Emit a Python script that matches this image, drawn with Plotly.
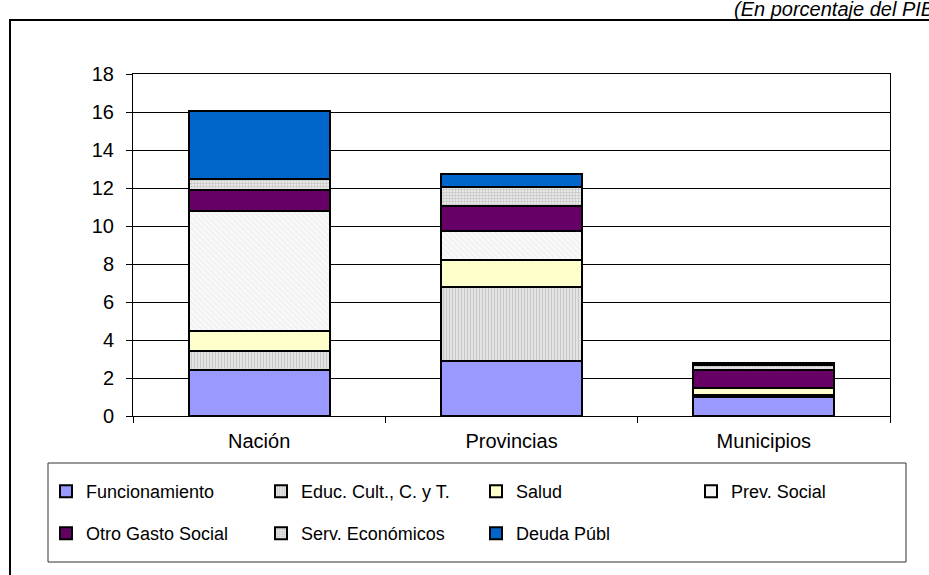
import plotly.graph_objects as go

categories = ["Nación", "Provincias", "Municipios"]

funcionamiento = [2.4, 2.9, 1.0]
educ_cult = [1.0, 3.9, 0.12]
salud = [1.1, 1.4, 0.33]
prev_social = [6.3, 1.55, 0.05]
otro_gasto_social = [1.1, 1.3, 0.92]
serv_economicos = [0.55, 1.0, 0.25]
deuda_publ = [3.6, 0.7, 0.1]

y_ticks = [0, 2, 4, 6, 8, 10, 12, 14, 16, 18]

series = [
    ("Funcionamiento", funcionamiento, dict(color="#9999FF"), "legend"),
    ("Educ. Cult., C. y T.", educ_cult,
     dict(color="#E4E4E4", pattern=dict(shape="|", fgcolor="#A8A8A8", bgcolor="#E8E8E8", size=3, solidity=0.45)), "legend"),
    ("Salud", salud, dict(color="#FFFFCC"), "legend"),
    ("Prev. Social", prev_social,
     dict(color="#F8F8F8", pattern=dict(shape="\\", fgcolor="#E4E4E4", bgcolor="#F9F9F9", size=4, solidity=0.3)), "legend"),
    ("Otro Gasto Social", otro_gasto_social, dict(color="#660066"), "legend2"),
    ("Serv. Económicos", serv_economicos,
     dict(color="#D0D0D0", pattern=dict(shape=".", fgcolor="#9A9A9A", bgcolor="#F2F2F2", size=3, solidity=0.55)), "legend2"),
    ("Deuda Públ", deuda_publ, dict(color="#0066CC"), "legend2"),
]

fig = go.Figure()
for name, vals, mk, lg in series:
    marker = dict(mk)
    marker["line"] = dict(color="#000000", width=2)
    fig.add_trace(go.Bar(x=categories, y=vals, name=name, marker=marker, legend=lg))

W, H = 929, 575
L, R, T, B = 133, 39, 74, 159
pw, ph = W - L - R, H - T - B

def px(xp):
    return (xp - L) / pw

def py(yp):
    return (H - B - yp) / ph

font_family = "Liberation Sans, Arial, sans-serif"

fig.update_layout(
    width=W, height=H,
    margin=dict(l=L, r=R, t=T, b=B),
    barmode="stack",
    bargap=0.44,
    plot_bgcolor="#FFFFFF",
    paper_bgcolor="#FFFFFF",
    font=dict(family=font_family, size=20, color="#000000"),
    xaxis=dict(
        showline=True, linecolor="#000000", linewidth=1, mirror=True,
        ticks="outside", tickson="boundaries", ticklen=6, tickcolor="#000000",
        ticklabelstandoff=7, showgrid=False,
        tickfont=dict(size=20),
    ),
    yaxis=dict(
        range=[0, 18], tickvals=y_ticks, ticktext=[str(v) for v in y_ticks],
        showline=True, linecolor="#000000", linewidth=1, mirror=True,
        ticks="outside", ticklen=6, tickcolor="#000000",
        showgrid=True, gridcolor="#000000", gridwidth=1,
        zeroline=False, tickfont=dict(size=20), ticklabelstandoff=8,
    ),
    legend=dict(
        orientation="h", x=px(46), y=py(473), xanchor="left", yanchor="top",
        entrywidth=170, entrywidthmode="pixels",
        font=dict(size=18), bgcolor="rgba(0,0,0,0)", borderwidth=0,
        traceorder="normal",
    ),
    legend2=dict(
        orientation="h", x=px(46), y=py(515), xanchor="left", yanchor="top",
        entrywidth=170, entrywidthmode="pixels",
        font=dict(size=18), bgcolor="rgba(0,0,0,0)", borderwidth=0,
        traceorder="normal",
    ),
    showlegend=True,
    shapes=[
        dict(type="rect", xref="paper", yref="paper",
             x0=px(10), x1=px(960), y0=py(20), y1=py(620),
             line=dict(color="#000000", width=2), fillcolor="rgba(0,0,0,0)", layer="below"),
        dict(type="rect", xref="paper", yref="paper",
             x0=px(48), x1=px(906), y0=py(463), y1=py(562),
             line=dict(color="#333333", width=1), fillcolor="rgba(0,0,0,0)", layer="below"),
    ],
    annotations=[
        dict(text="<i>(En porcentaje del PIB)</i>", xref="paper", yref="paper",
             x=px(732), y=py(22), xanchor="left", yanchor="bottom",
             showarrow=False, font=dict(size=20, family=font_family)),
    ],
)

fig.write_html(
    "out.html",
    config={"displayModeBar": False},
    post_script="document.body.style.margin='0';document.body.style.overflow='hidden';",
)
